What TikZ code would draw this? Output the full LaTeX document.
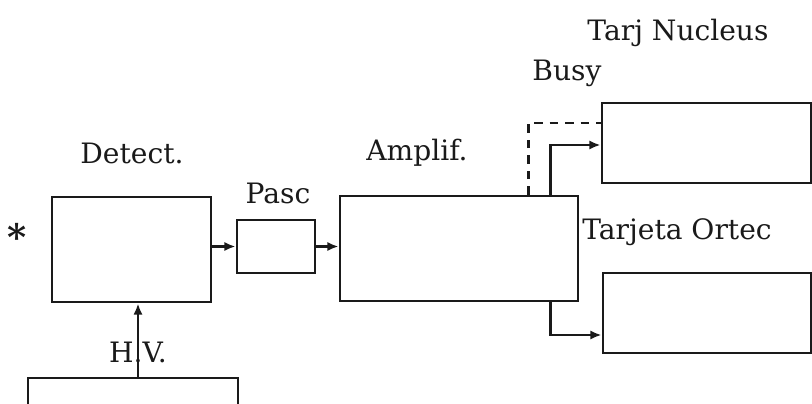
\documentclass[tikz,border=0pt]{standalone}
\usepackage{fontspec}
\setmainfont{DejaVu Serif}
\usepackage{xcolor}
\usetikzlibrary{arrows.meta,positioning}
\definecolor{Ink}{HTML}{1A1A1A}

\begin{document}
\begin{tikzpicture}[x=1cm,y=1cm,>=Latex]
  \tikzset{
    block/.style={
      draw=Ink,
      line width=2pt,
      fill=white,
      inner sep=0pt
    },
    link/.style={-{Latex[length=8pt,width=6.5pt]}, line width=1.7pt, Ink},
    busyline/.style={line width=1.7pt, Ink, dash pattern=on 6pt off 5pt},
    blocklabel/.style={font=\fontsize{20}{22}\selectfont, text=Ink, inner sep=0pt}
  }
  \useasboundingbox (0,0) rectangle (20.3,10.075);

  \node[block, minimum width=3.975cm, minimum height=2.625cm] (detect) at (3.2875,3.8375) {};
  \node[block, minimum width=1.95cm,  minimum height=1.325cm] (pasc)   at (6.9,3.9125) {};
  \node[block, minimum width=5.95cm,  minimum height=2.625cm] (amplif) at (11.475,3.8625) {};
  \node[block, minimum width=5.225cm, minimum height=2.0cm]   (nucleus) at (17.6625,6.5) {};
  \node[block, minimum width=5.2cm,   minimum height=2.0cm]   (ortec)  at (17.675,2.25) {};
  \node[block, minimum width=5.25cm,  minimum height=1.6cm]   (hv)     at (3.325,-0.175) {};

  \node[blocklabel] (detectlabel)  at (3.3,6.25)    {Detect.};
  \node[blocklabel] (pasclabel)    at (6.95,5.25)   {Pasc};
  \node[blocklabel] (ampliflabel)  at (10.425,6.25) {Amplif.};
  \node[blocklabel] (busylabel)    at (14.175,8.25) {Busy};
  \node[blocklabel] (nucleuslabel) at (16.95,9.25)  {Tarj Nucleus};
  \node[blocklabel] (orteclabel)   at (16.925,4.275) {Tarjeta Ortec};
  \node[blocklabel, font=\fontsize{26}{28}\selectfont\bfseries] (source) at (0.425,4.15) {*};

  \coordinate (hvtop) at ([xshift=0.125cm]hv.north);
  \coordinate (splittop) at ([xshift=-0.725cm]amplif.north east);
  \coordinate (splitbot) at ([xshift=-0.725cm]amplif.south east);
  \coordinate (busytap) at ([xshift=-1.275cm]amplif.north east);

  \draw[link] (detect.east |- pasc.west) -- (pasc.west);
  \draw[link] (pasc.east) -- (pasc.east -| amplif.west);
  \draw[link] (hvtop) -- (hvtop |- detect.south);
  \draw[link] (splittop) |- ([yshift=-0.05cm]nucleus.west);
  \draw[link] (splitbot) |- ([yshift=-0.55cm]ortec.west);
  \draw[busyline] (busytap) |- ([yshift=0.5cm]nucleus.west);

  \node[blocklabel] (hvlabel) at (3.45,1.275) {H.V.};
\end{tikzpicture}
\end{document}
